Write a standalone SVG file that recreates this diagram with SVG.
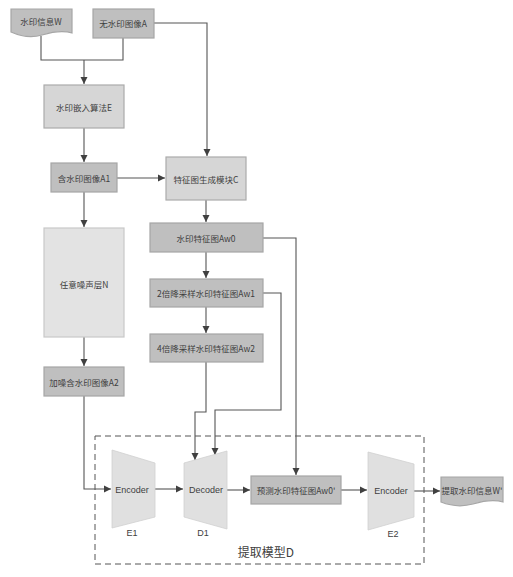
<svg xmlns="http://www.w3.org/2000/svg" width="513" height="577" viewBox="0 0 513 577">
<style>
.dk{fill:#bfbfbf;stroke:#a6a6a6;stroke-width:1.2}
.md{fill:#d6d6d6;stroke:#ababab;stroke-width:1.2}
.lt{fill:#e3e3e3;stroke:#c8c8c8;stroke-width:1.2}
.tz{fill:#e0e0e0;stroke:#d0d0d0;stroke-width:0.8}
text{font-family:"Noto Sans CJK SC","Liberation Sans",sans-serif;font-size:8.5px;fill:#404040;text-anchor:middle;dominant-baseline:central}
.en{font-family:"Liberation Sans","Noto Sans",sans-serif;font-size:9px}
.big{font-size:12px}
.ln{fill:none;stroke:#555;stroke-width:1.1}
</style>
<defs>
<marker id="ar" markerWidth="8" markerHeight="8" refX="7" refY="4" orient="auto" markerUnits="userSpaceOnUse">
<path d="M0,0.5 L7,4 L0,7.5 Z" fill="#404040"/>
</marker>
</defs>
<rect x="0" y="0" width="513" height="577" fill="#fff"/>
<g id="frameD">
<rect x="95" y="436" width="329" height="128" fill="none" stroke="#555" stroke-width="1" stroke-dasharray="6,4"/>
<text class="big" x="266" y="551">提取模型D</text>
</g>
<g id="connectors">
<path class="ln" d="M41,36 V60 H123 V38"/>
<path class="ln" d="M84,60 V84" marker-end="url(#ar)"/>
<path class="ln" d="M154,23 H207 V156" marker-end="url(#ar)"/>
<path class="ln" d="M84,128 V162" marker-end="url(#ar)"/>
<path class="ln" d="M117,178 H165" marker-end="url(#ar)"/>
<path class="ln" d="M84,192 V227" marker-end="url(#ar)"/>
<path class="ln" d="M84,337 V366" marker-end="url(#ar)"/>
<path class="ln" d="M206,200 V222" marker-end="url(#ar)"/>
<path class="ln" d="M206,252 V278" marker-end="url(#ar)"/>
<path class="ln" d="M206,307 V333" marker-end="url(#ar)"/>
<path class="ln" d="M263,238 H296 V475" marker-end="url(#ar)"/>
<path class="ln" d="M263,293 H281 V410 H215 V455" marker-end="url(#ar)"/>
<path class="ln" d="M206,362 V412 H195 V460" marker-end="url(#ar)"/>
<path class="ln" d="M84,396 V489 H111" marker-end="url(#ar)"/>
<path class="ln" d="M155,489 H183" marker-end="url(#ar)"/>
<path class="ln" d="M227,490 H250" marker-end="url(#ar)"/>
<path class="ln" d="M341,490 H367" marker-end="url(#ar)"/>
<path class="ln" d="M414,491 H440" marker-end="url(#ar)"/>
</g>
<g id="W">
<path class="dk" d="M11,9 H72 V33 C62,30 52,32 42,35 C32,38 20,36 11,32 Z"/>
<text x="41" y="21">水印信息W</text>
</g>
<g id="A">
<rect class="dk" x="93" y="9" width="61" height="29"/>
<text x="123" y="23">无水印图像A</text>
</g>
<g id="E">
<rect class="md" x="44" y="85" width="80" height="43"/>
<text x="84" y="107">水印嵌入算法E</text>
</g>
<g id="A1">
<rect class="dk" x="51" y="163" width="66" height="29"/>
<text x="84" y="178">含水印图像A1</text>
</g>
<g id="C">
<rect class="md" x="166" y="157" width="80" height="43"/>
<text x="206" y="179">特征图生成模块C</text>
</g>
<g id="N">
<rect class="lt" x="44" y="228" width="80" height="109"/>
<text x="84" y="284">任意噪声层N</text>
</g>
<g id="A2">
<rect class="dk" x="44" y="367" width="80" height="29"/>
<text x="84" y="382">加噪含水印图像A2</text>
</g>
<g id="Aw0">
<rect class="dk" x="150" y="223" width="113" height="29"/>
<text x="206" y="238">水印特征图Aw0</text>
</g>
<g id="Aw1">
<rect class="dk" x="150" y="279" width="113" height="28"/>
<text x="206" y="293">2倍降采样水印特征图Aw1</text>
</g>
<g id="Aw2">
<rect class="dk" x="150" y="334" width="113" height="28"/>
<text x="206" y="348">4倍降采样水印特征图Aw2</text>
</g>
<g id="E1">
<path class="tz" d="M112,450 L155,463 L155,517 L112,528 Z"/>
<text class="en" x="132" y="490">Encoder</text>
<text class="en" x="132" y="533">E1</text>
</g>
<g id="D1">
<path class="tz" d="M184,463 L227,451 L227,529 L184,517 Z"/>
<text class="en" x="206" y="490">Decoder</text>
<text class="en" x="203" y="533">D1</text>
</g>
<g id="Aw0p">
<rect class="dk" x="251" y="476" width="90" height="28"/>
<text x="296" y="490">预测水印特征图Aw0'</text>
</g>
<g id="E2">
<path class="tz" d="M368,452 L414,464 L414,517 L368,530 Z"/>
<text class="en" x="391" y="491">Encoder</text>
<text class="en" x="393" y="534">E2</text>
</g>
<g id="Wp">
<path class="dk" d="M441,477 H503 V502 C493,499 483,501 473,504 C462,507 451,506 441,502 Z"/>
<text x="472" y="490">提取水印信息W'</text>
</g>
</svg>
